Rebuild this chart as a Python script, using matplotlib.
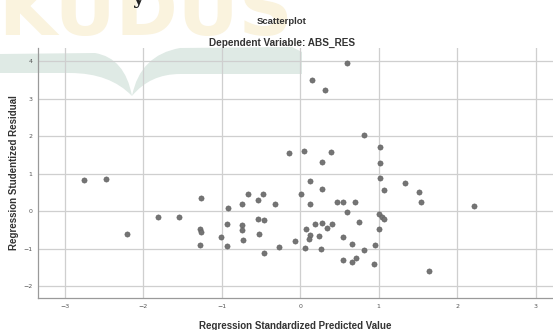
import matplotlib
matplotlib.use("Agg")
import matplotlib.pyplot as plt
from matplotlib.path import Path
from matplotlib.patches import PathPatch

# ---- data ----
pred = [-2.75, -2.48, -2.20, -1.81, -1.55, -1.27, -1.28, -1.27, -1.28, -1.01,
        -0.92, -0.93, -0.93, -0.74, -0.74, -0.74, -0.73, -0.66, -0.54, -0.47,
        -0.54, -0.46, -0.53, -0.46, -0.32, -0.27, -0.14, 0.05, 0.01, 0.12,
        0.12, 0.28, 0.28, 0.39, 0.15, 0.31, 0.60, 0.81, 1.01, 1.01,
        1.02, 1.07, 1.33, 1.51, 1.54, 2.21, 0.47, 0.55, 0.70, 0.59,
        1.00, 1.04, 1.07, 0.75, 0.19, 0.28, 0.40, 0.34, 0.08, 0.12,
        0.11, 0.24, 0.55, 1.00, -0.07, 0.06, 0.26, 0.66, 0.81, 0.95,
        0.55, 0.66, 0.71, 0.94, 1.64]
resid = [0.83, 0.85, -0.60, -0.17, -0.15, 0.35, -0.48, -0.55, -0.90, -0.70,
         0.08, -0.34, -0.93, 0.18, -0.36, -0.51, -0.77, 0.46, 0.29, 0.46,
         -0.20, -0.23, -0.61, -1.12, 0.18, -0.95, 1.55, 1.61, 0.45, 0.81,
         0.18, 0.58, 1.32, 1.57, 3.50, 3.24, 3.94, 2.04, 1.70, 1.27,
         0.87, 0.56, 0.76, 0.50, 0.25, 0.13, 0.24, 0.23, 0.24, -0.02,
         -0.08, -0.15, -0.20, -0.29, -0.34, -0.33, -0.34, -0.44, -0.49, -0.64,
         -0.75, -0.67, -0.68, -0.49, -0.80, -0.98, -1.02, -0.88, -1.04, -0.91,
         -1.30, -1.35, -1.26, -1.40, -1.59]
x_ticks = [-3, -2, -1, 0, 1, 2, 3]
y_ticks = [-2, -1, 0, 1, 2, 3, 4]
title1 = "Scatterplot"
title2 = "Dependent Variable: ABS_RES"
xlabel = "Regression Standardized Predicted Value"
ylabel = "Regression Studentized Residual"

W, H = 553, 330
fig = plt.figure(figsize=(W / 100, H / 100), dpi=100)
fig.patch.set_facecolor("white")

# ---- faint watermark (pixel coords, y from top) ----
def px(x, y):
    return (x / W, 1 - y / H)

green = "#dfeae5"
left_wing = [px(0, 54), px(95, 53), px(125, 58), px(132, 96), px(110, 73), px(70, 73), px(0, 73), px(0, 54)]
left_codes = [Path.MOVETO, Path.LINETO, Path.CURVE3, Path.CURVE3, Path.CURVE3, Path.CURVE3, Path.LINETO, Path.CLOSEPOLY]
right_wing = [px(132, 96), px(140, 55), px(180, 48), px(292, 47), px(302, 52), px(302, 74), px(180, 74), px(150, 74), px(132, 96)]
right_codes = [Path.MOVETO, Path.CURVE3, Path.CURVE3, Path.LINETO, Path.LINETO, Path.LINETO, Path.LINETO, Path.CURVE3, Path.CURVE3]
for verts, codes in ((left_wing, left_codes), (right_wing, right_codes)):
    fig.patches.append(PathPatch(Path(verts, codes), facecolor=green, edgecolor="none",
                                 transform=fig.transFigure, zorder=0))
fig.text(-2 / W, 1 - 35 / H, "KUDUS", fontsize=54, fontweight="bold", color="#faf3de",
         family="DejaVu Sans", ha="left", va="baseline", zorder=0)
fig.text(138 / W, 1 - 4 / H, "y", fontsize=14, fontweight="bold", color="#222222",
         family="DejaVu Serif", ha="center", va="baseline", zorder=1)

# ---- axes ----
ax = fig.add_axes([38 / W, 1 - 298 / H, (553 - 38) / W, (298 - 48) / H])
ax.set_facecolor("none")
ax.set_zorder(2)
ax.set_xlim(-3.34, 3.22)
ax.set_ylim(-2.32, 4.35)
ax.set_xticks(x_ticks)
ax.set_yticks(y_ticks)
ax.grid(True, color="#cfcfcf", linewidth=0.9)
ax.set_axisbelow(True)
for s in ("top", "right"):
    ax.spines[s].set_visible(False)
for s in ("left", "bottom"):
    ax.spines[s].set_color("#9a9a9a")
    ax.spines[s].set_linewidth(0.9)
ax.tick_params(axis="both", length=0, labelsize=4.5, labelcolor="#555555", pad=4)

ax.scatter(pred, resid, s=14, color="#747474", edgecolors="#5e5e5e", linewidths=0.4, zorder=3)

ax.set_xlabel(xlabel, fontsize=7, fontweight="bold", color="#333333",
              family="Liberation Sans", labelpad=9)
ax.set_ylabel(ylabel, fontsize=7, fontweight="bold", color="#333333",
              family="Liberation Sans", labelpad=3)

fig.text(282 / W, 1 - 21 / H, title1, fontsize=6.8, fontweight="bold", color="#333333",
         family="Liberation Sans", ha="center", va="center")
fig.text(282 / W, 1 - 43 / H, title2, fontsize=7.2, fontweight="bold", color="#333333",
         family="Liberation Sans", ha="center", va="center")

fig.savefig("out.png", dpi=100)
